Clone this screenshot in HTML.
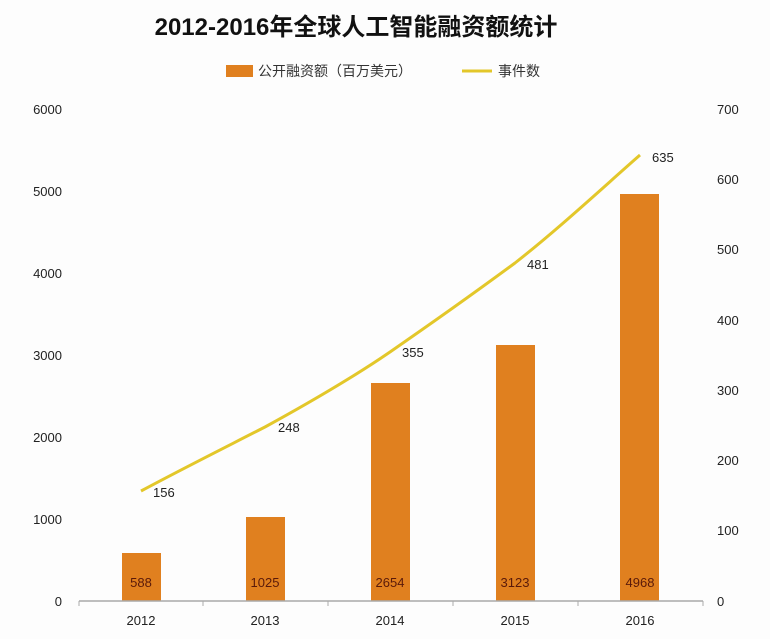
<!DOCTYPE html>
<html><head><meta charset="utf-8"><style>
body{margin:0;background:#fff;}
svg{display:block;font-family:"Liberation Sans","Noto Sans CJK SC",sans-serif;}
</style></head><body>
<svg width="770" height="639" viewBox="0 0 770 639">
<rect width="770" height="639" fill="#fdfdfd"/>
<text x="356" y="35" text-anchor="middle" font-size="24" font-weight="bold" fill="#111">2012-2016年全球人工智能融资额统计</text>
<rect x="226" y="65" width="27" height="12" fill="#e0801f"/>
<text x="258" y="76" font-size="14" fill="#333">公开融资额（百万美元）</text>
<line x1="462" y1="71" x2="492" y2="71" stroke="#e3c72a" stroke-width="3"/>
<text x="498" y="76" font-size="14" fill="#333">事件数</text>
<g font-size="13" fill="#222" text-anchor="end">
<text x="62" y="114">6000</text><text x="62" y="196">5000</text><text x="62" y="278">4000</text>
<text x="62" y="360">3000</text><text x="62" y="442">2000</text><text x="62" y="524">1000</text><text x="62" y="606">0</text>
</g>
<g font-size="13" fill="#222" text-anchor="start">
<text x="717" y="114">700</text><text x="717" y="184">600</text><text x="717" y="254">500</text>
<text x="717" y="325">400</text><text x="717" y="395">300</text><text x="717" y="465">200</text>
<text x="717" y="535">100</text><text x="717" y="606">0</text>
</g>
<g fill="#e0801f">
<rect x="122" y="553" width="39" height="48"/>
<rect x="246" y="517" width="39" height="84"/>
<rect x="371" y="383" width="39" height="218"/>
<rect x="496" y="345" width="39" height="256"/>
<rect x="620" y="194" width="39" height="407"/>
</g>
<g font-size="13" fill="#5a1a0a" text-anchor="middle">
<text x="141" y="587">588</text><text x="265" y="587">1025</text><text x="390" y="587">2654</text>
<text x="515" y="587">3123</text><text x="640" y="587">4968</text>
</g>
<line x1="79" y1="601" x2="703" y2="601" stroke="#aaa" stroke-width="1.5"/>
<g stroke="#aaa"><line x1="79" y1="601" x2="79" y2="606"/><line x1="203" y1="601" x2="203" y2="606"/><line x1="328" y1="601" x2="328" y2="606"/><line x1="453" y1="601" x2="453" y2="606"/><line x1="578" y1="601" x2="578" y2="606"/><line x1="703" y1="601" x2="703" y2="606"/></g>
<g font-size="13" fill="#222" text-anchor="middle">
<text x="141" y="625">2012</text><text x="265" y="625">2013</text><text x="390" y="625">2014</text>
<text x="515" y="625">2015</text><text x="640" y="625">2016</text>
</g>
<path d="M141,491 C182,469 224,448 265,427 C307,404 349,380 390,352 C432,323 473,294 515,263 C557,230 598,192 640,155" fill="none" stroke="#e3c72a" stroke-width="3"/>
<g font-size="13" fill="#222">
<text x="153" y="497">156</text><text x="278" y="432">248</text><text x="402" y="357">355</text>
<text x="527" y="269">481</text><text x="652" y="162">635</text>
</g>
</svg>
</body></html>
